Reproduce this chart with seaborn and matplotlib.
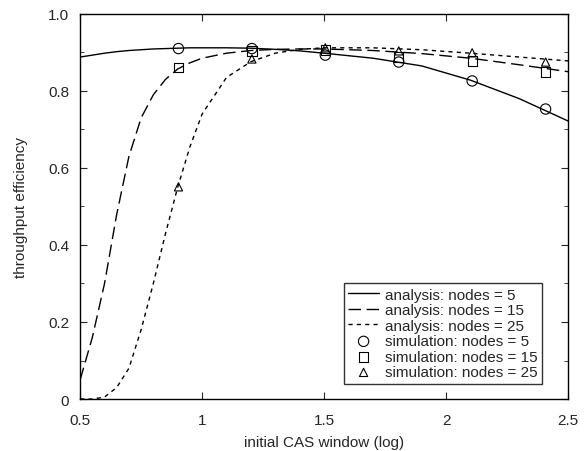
import matplotlib
matplotlib.use("Agg")
import matplotlib.pyplot as plt
import seaborn as sns
from matplotlib.ticker import MultipleLocator, FixedLocator, FuncFormatter

# analysis curves
x_analysis = [0.5, 0.55, 0.6, 0.65, 0.7, 0.75, 0.8, 0.85, 0.9, 0.95, 1.0,
              1.1, 1.2, 1.3, 1.4, 1.5, 1.7, 1.9, 2.1, 2.3, 2.5]
analysis_5 = [0.888, 0.893, 0.898, 0.902, 0.905, 0.907, 0.909, 0.910, 0.911, 0.912, 0.912,
              0.912, 0.911, 0.908, 0.904, 0.898, 0.885, 0.865, 0.828, 0.780, 0.722]
analysis_15 = [0.05, 0.16, 0.30, 0.48, 0.63, 0.73, 0.79, 0.83, 0.857, 0.873, 0.885,
               0.898, 0.905, 0.908, 0.909, 0.909, 0.905, 0.897, 0.885, 0.868, 0.850]
analysis_25 = [0.0, 0.0, 0.005, 0.03, 0.08, 0.18, 0.30, 0.43, 0.55, 0.655, 0.74,
               0.835, 0.876, 0.898, 0.908, 0.912, 0.912, 0.907, 0.898, 0.888, 0.878]

# simulation points (log10 of 8 ... 256)
x_sim = [0.903, 1.204, 1.505, 1.806, 2.107, 2.408]
sim_5 = [0.910, 0.910, 0.893, 0.875, 0.826, 0.753]
sim_15 = [0.860, 0.904, 0.906, 0.888, 0.878, 0.849]
sim_25 = [0.551, 0.883, 0.912, 0.904, 0.899, 0.875]

sns.set_style("ticks")
plt.rcParams["font.family"] = ["Liberation Sans", "DejaVu Sans"]
plt.rcParams["font.size"] = 11

fig = plt.figure(figsize=(5.85, 4.52), dpi=100)
ax = fig.add_axes([0.137, 0.115, 0.834, 0.852])

sns.lineplot(x=x_analysis, y=analysis_5, ax=ax, color="black", lw=1.0,
             label="analysis: nodes = 5")
sns.lineplot(x=x_analysis, y=analysis_15, ax=ax, color="black", lw=1.0,
             label="analysis: nodes = 15")
ax.lines[-1].set_dashes((9, 4))
sns.lineplot(x=x_analysis, y=analysis_25, ax=ax, color="black", lw=1.0,
             label="analysis: nodes = 25")
ax.lines[-1].set_dashes((3, 3))

sns.scatterplot(x=x_sim, y=sim_5, ax=ax, marker="o", s=55, facecolor="none",
                edgecolor="black", linewidth=0.8, label="simulation: nodes = 5")
sns.scatterplot(x=x_sim, y=sim_15, ax=ax, marker="s", s=45, facecolor="none",
                edgecolor="black", linewidth=0.8, label="simulation: nodes = 15")
sns.scatterplot(x=x_sim, y=sim_25, ax=ax, marker="^", s=35, facecolor="none",
                edgecolor="black", linewidth=0.8, label="simulation: nodes = 25")

ax.set_xlim(0.5, 2.5)
ax.set_ylim(0, 1.0)
ax.xaxis.set_major_locator(FixedLocator([0.5, 1, 1.5, 2, 2.5]))
ax.xaxis.set_major_formatter(FuncFormatter(lambda v, p: f"{v:g}"))
ax.yaxis.set_major_locator(MultipleLocator(0.2))
ax.yaxis.set_minor_locator(MultipleLocator(0.1))
ax.yaxis.set_major_formatter(FuncFormatter(lambda v, p: "0" if abs(v) < 1e-9 else f"{v:.1f}"))
ax.tick_params(direction="in", top=True, right=True, which="both", labelsize=11)
ax.tick_params(which="major", length=5)
ax.tick_params(which="minor", length=3)
ax.tick_params(axis="x", which="major", pad=10)
ax.tick_params(axis="y", which="major", pad=8)
for s in ax.spines.values():
    s.set_linewidth(1.0)
    s.set_color("black")

ax.set_xlabel("initial CAS window (log)", fontsize=11, labelpad=6)
ax.set_ylabel("throughput efficiency", fontsize=11, labelpad=14)

leg = ax.legend(loc="lower right", bbox_to_anchor=(0.947, 0.039), frameon=True,
                fancybox=False, edgecolor="black", fontsize=11, handlelength=2.0,
                labelspacing=0.1, borderpad=0.3, handletextpad=0.4, borderaxespad=0)
leg.get_frame().set_linewidth(1.0)

fig.savefig("out.png", dpi=100)
